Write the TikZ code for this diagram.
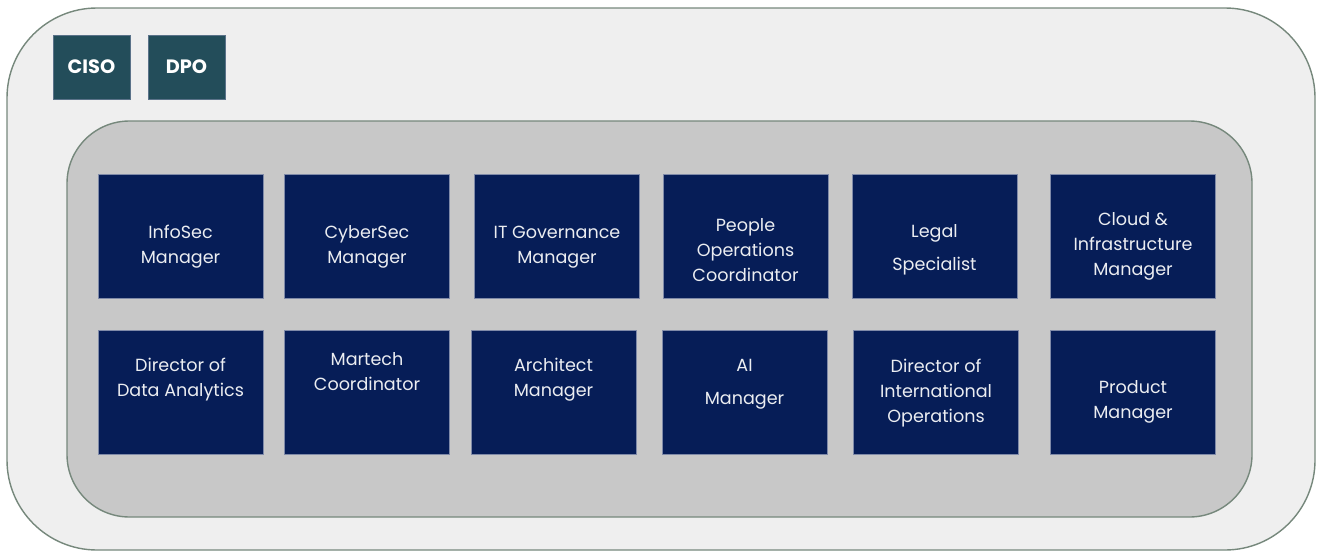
\documentclass[tikz,border=0pt]{standalone}
\usepackage{fontspec}
\setmainfont{Poppins}
\definecolor{navy}{HTML}{061D57}
\definecolor{navyline}{HTML}{7F8AA8}
\definecolor{teal}{HTML}{234D5A}
\definecolor{frame}{HTML}{76887C}
\definecolor{outerbg}{HTML}{EFEFEF}
\definecolor{innerbg}{HTML}{C8C8C8}
\begin{document}
\begin{tikzpicture}[x=0.02cm,y=-0.02cm,
  role/.style={draw=navyline,line width=0.5pt,fill=navy,minimum width=3.3cm,minimum height=2.48cm,inner sep=0pt},
  rolename/.style={text=white!92!navy,align=center,inner sep=0pt,font=\fontsize{10}{14.2}\selectfont},
  officer/.style={draw=navyline!60!teal,line width=0.5pt,fill=teal,minimum width=1.54cm,minimum height=1.28cm,inner sep=0pt,text=white,font=\fontsize{11}{13}\selectfont\bfseries}]
  \useasboundingbox (0,0) rectangle (1317,551);
  % outer frame and inner team area
  \draw[frame,line width=0.8pt,fill=outerbg,rounded corners=1.8cm] (7,8) rectangle (1315,550);
  \draw[frame,line width=0.8pt,fill=innerbg,rounded corners=1.25cm] (67,121) rectangle (1252,517);

  \node[officer] (ciso) at (91.5,67) {CISO};
  \node[officer] (dpo) at (186.5,67) {DPO};

  % first row
  \node[role] (infosec) at (180.5,236) {};
  \node[rolename] (infosec-t) at (180.5,247) {InfoSec\\Manager};
  \node[role] (cybersec) at (367,236) {};
  \node[rolename] (cybersec-t) at (367,247) {CyberSec\\Manager};
  \node[role] (itgov) at (557,236) {};
  \node[rolename] (itgov-t) at (557,247) {IT Governance\\Manager};
  \node[role] (peopleops) at (745.5,236) {};
  \node[rolename] (peopleops-t) at (745.5,250) {People\\Operations\\Coordinator};
  \node[role] (legal) at (934.5,236) {};
  \node[rolename] (legal-t) at (934.5,250) {Legal\\[4.5pt]Specialist};
  \node[role] (cloud) at (1133,236) {};
  \node[rolename] (cloud-t) at (1133,246) {Cloud \&\\Infrastructure\\Manager};

  % second row
  \node[role] (dataanalytics) at (180.5,392) {};
  \node[rolename] (dataanalytics-t) at (180.5,380) {Director of\\Data Analytics};
  \node[role] (martech) at (367,392) {};
  \node[rolename] (martech-t) at (367,372) {Martech\\Coordinator};
  \node[role] (architect) at (553.5,392) {};
  \node[rolename] (architect-t) at (553.5,380) {Architect\\Manager};
  \node[role] (ai) at (744.5,392) {};
  \node[rolename] (ai-t) at (744.5,384) {AI\\[4.5pt]Manager};
  \node[role] (intlops) at (936,392) {};
  \node[rolename] (intlops-t) at (936,393) {Director of\\International\\Operations};
  \node[role] (product) at (1133,392) {};
  \node[rolename] (product-t) at (1133,402) {Product\\Manager};
\end{tikzpicture}
\end{document}
